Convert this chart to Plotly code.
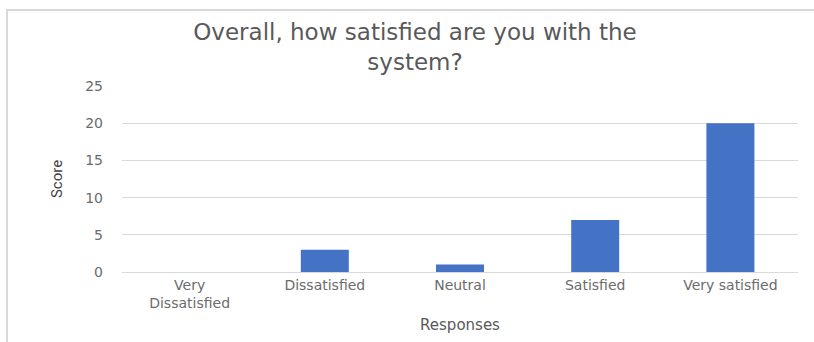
import plotly.graph_objects as go

categories = ["Very<br>Dissatisfied", "Dissatisfied", "Neutral", "Satisfied", "Very satisfied"]
scores = [0, 3, 1, 7, 20]
y_ticks = [0, 5, 10, 15, 20, 25]

W, H = 814, 342
L, R, T, B = 122, 16, 86, 70
pw = W - L - R
ph = H - T - B

def px_x(p):
    return (p - L) / pw

def px_y(p):
    return (H - B - p) / ph

FONT = "DejaVu Sans, Verdana, sans-serif"

fig = go.Figure()
fig.add_trace(go.Bar(
    x=categories, y=scores,
    marker=dict(color="#4472C4", line=dict(width=0)),
    hoverinfo="x+y",
))

fig.update_layout(
    width=W, height=H,
    margin=dict(l=L, r=R, t=T, b=B),
    paper_bgcolor="white", plot_bgcolor="white",
    bargap=0.645,
    showlegend=False,
    font=dict(family=FONT, color="#6b6b6b", size=14),
    title=dict(
        text="Overall, how satisfied are you with the<br>system?",
        x=415 / W, xanchor="center",
        y=1 - 40 / H, yanchor="top",
        font=dict(size=23, color="#595959", family=FONT),
    ),
    xaxis=dict(
        showgrid=False, showline=True, linecolor="#d9d9d9", linewidth=1,
        ticks="", tickfont=dict(size=14, color="#6b6b6b"),
        title=dict(text="Responses", font=dict(size=15, color="#595959"), standoff=9),
    ),
    yaxis=dict(
        range=[0, 25], tickvals=y_ticks, showgrid=True, gridcolor="#d9d9d9", gridwidth=1,
        zeroline=False, showline=False, ticks="", ticklabelstandoff=18,
        tickfont=dict(size=14, color="#6b6b6b"),
        title=dict(text="Score", font=dict(size=15, color="#404040",
                                           family="Liberation Sans Narrow, Roboto, sans-serif"), standoff=18),
    ),
    shapes=[
        dict(type="line", xref="paper", yref="paper",
             x0=px_x(7), x1=px_x(7), y0=px_y(10), y1=px_y(H + 2),
             line=dict(color="#d9d9d9", width=2)),
        dict(type="line", xref="paper", yref="paper",
             x0=px_x(6), x1=px_x(W + 2), y0=px_y(10), y1=px_y(10),
             line=dict(color="#d9d9d9", width=2)),
    ],
)

fig.write_html("out.html")
